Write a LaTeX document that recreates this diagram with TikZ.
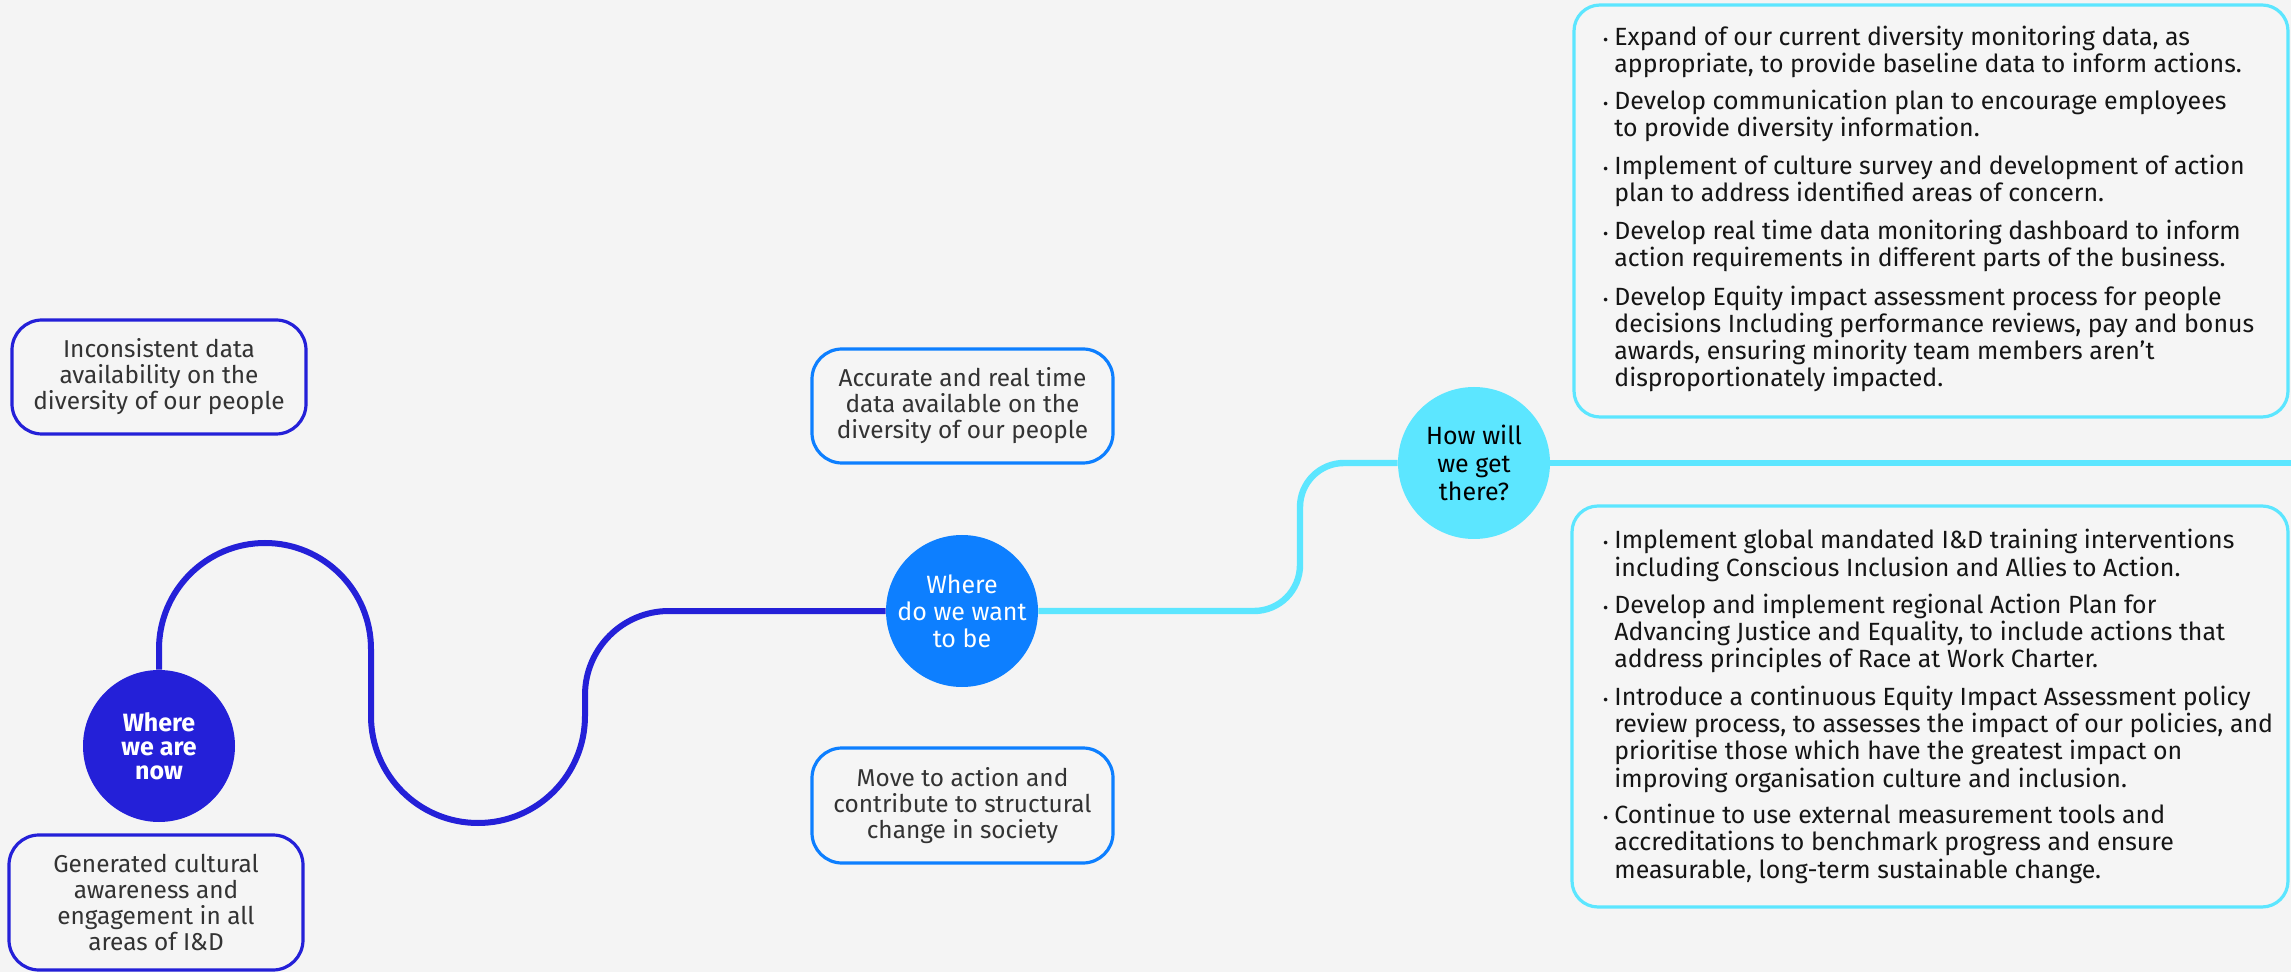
\documentclass[tikz,border=0pt]{standalone}
\usepackage{fontspec}
\setmainfont{Fira Sans}
\definecolor{deepblue}{HTML}{2420D8}
\definecolor{midblue}{HTML}{0D7FFF}
\definecolor{skyline}{HTML}{5CE6FF}
\definecolor{pagebg}{HTML}{F4F4F4}
\definecolor{boxfill}{HTML}{F5F5F5}
\definecolor{textgrey}{HTML}{333333}
\definecolor{textdark}{HTML}{151515}
\newcommand\bul{\llap{{\fontsize{8}{8}\selectfont\textbullet}\hspace{3pt}}}
\begin{document}
\begin{tikzpicture}[x=0.5pt,y=-0.5pt,
  statebox/.style={draw, line width=1.6pt, rounded corners=15pt, fill=boxfill,
    inner sep=0pt, align=center, text=textgrey, font=\fontsize{12.2}{13}\selectfont},
  planbox/.style={draw=skyline, line width=1.6pt, rounded corners=13pt, fill=boxfill, inner sep=0pt},
  itemtext/.style={anchor=base west, inner sep=0pt, align=left, text=textdark,
    font=\fontsize{12.45}{13.6}\selectfont},
  hub/.style={circle, minimum size=76pt, inner sep=0pt, align=center},
  deeppath/.style={draw=deepblue, line width=3pt},
  skypath/.style={draw=skyline, line width=3.2pt}]
\fill[pagebg] (0,0) rectangle (2291,972);
\useasboundingbox (0,0) rectangle (2291,972);

% stage circles
\node[hub, fill=deepblue, text=white, font=\bfseries\fontsize{12.5}{12}\selectfont] (c1) at (159,746) {Where\\we are\\now};
\node[hub, fill=midblue, text=white, font=\fontsize{12.5}{13.5}\selectfont] (c2) at (962,611) {Where\\do we want\\to be};
\node[hub, fill=skyline, text=black, font=\fontsize{12.5}{14}\selectfont] (c3) at (1474,463) {How will\\we get\\there?};

% winding route between the stages
\draw[deeppath] (c1.north) -- (159,649) arc[start angle=180,end angle=360,radius=106]
  -- (371,716) arc[start angle=180,end angle=0,radius=107]
  -- (585,695) arc[start angle=180,end angle=270,radius=84] -- (c2.west);
\draw[skypath] (c2.east) -- (1254,611) arc[start angle=90,end angle=0,radius=46]
  -- (1300,507) arc[start angle=180,end angle=270,radius=44] -- (c3.west);
\coordinate (edge) at (2291,463);
\draw[skypath] (c3.east) -- (edge);

% current state
\node[statebox, draw=deepblue, minimum width=147pt, minimum height=57pt] (now1) at (159,377)
  {Inconsistent data\\availability on the\\diversity of our people};
\node[statebox, draw=deepblue, minimum width=147pt, minimum height=67.5pt] (now2) at (156,902.5)
  {Generated cultural\\awareness and\\engagement in all\\areas of I\&D};

% target state
\node[statebox, draw=midblue, minimum width=150.5pt, minimum height=57pt] (want1) at (962.5,406)
  {Accurate and real time\\data available on the\\diversity of our people};
\node[statebox, draw=midblue, minimum width=150.5pt, minimum height=57.5pt] (want2) at (962.5,805.5)
  {Move to action and\\contribute to structural\\change in society};

% actions (each list item is anchored at the baseline of its last line)
\node[planbox, minimum width=357pt, minimum height=206pt] (get1) at (1931,211) {};
\node[planbox, minimum width=358pt, minimum height=200.5pt] (get2) at (1930,706.5) {};

\node[itemtext] (a1) at (1614,73) {\bul Expand of our current diversity monitoring data, as\\appropriate, to provide baseline data to inform actions.};
\node[itemtext] (a2) at (1614,137) {\bul Develop communication plan to encourage employees\\to provide diversity information.};
\node[itemtext] (a3) at (1614,202) {\bul Implement of culture survey and development of action\\plan to address identified areas of concern.};
\node[itemtext] (a4) at (1614,267) {\bul Develop real time data monitoring dashboard to inform\\action requirements in different parts of the business.};
\node[itemtext] (a5) at (1614,387) {\bul Develop Equity impact assessment process for people\\decisions Including performance reviews, pay and bonus\\awards, ensuring minority team members aren’t\\disproportionately impacted.};

\node[itemtext] (b1) at (1614,576) {\bul Implement global mandated I\&D training interventions\\including Conscious Inclusion and Allies to Action.};
\node[itemtext] (b2) at (1614,668) {\bul Develop and implement regional Action Plan for\\Advancing Justice and Equality, to include actions that\\address principles of Race at Work Charter.};
\node[itemtext] (b3) at (1614,787) {\bul Introduce a continuous Equity Impact Assessment policy\\review process, to assesses the impact of our policies, and\\prioritise those which have the greatest impact on\\improving organisation culture and inclusion.};
\node[itemtext] (b4) at (1614,878) {\bul Continue to use external measurement tools and\\accreditations to benchmark progress and ensure\\measurable, long-term sustainable change.};
\end{tikzpicture}
\end{document}
